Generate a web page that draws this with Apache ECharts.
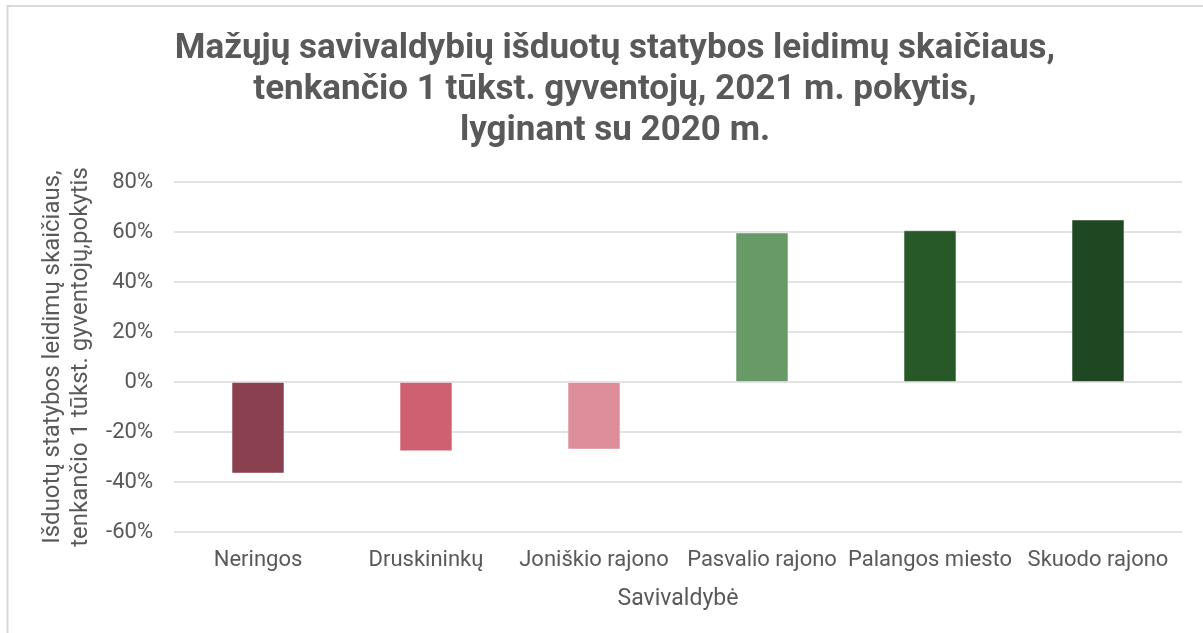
<!DOCTYPE html>
<html>
<head>
<meta charset="utf-8">
<script src="https://cdn.jsdelivr.net/npm/echarts@6/dist/echarts.min.js"></script>
<style>
  html, body { margin: 0; padding: 0; background: #fff; }
  #main { width: 1203px; height: 633px; }
</style>
</head>
<body>
<div id="main"></div>
<script>
// savivaldybės ir pokytis (%)
var categories = ['Neringos', 'Druskininkų', 'Joniškio rajono', 'Pasvalio rajono', 'Palangos miesto', 'Skuodo rajono'];
var values = [-36.6, -27.7, -27.0, 59.8, 60.7, 65.0];
var barColors = ['#8B4050', '#CF6072', '#DE8D9A', '#679A66', '#275828', '#1F4721'];

var textColor = '#595959';
var font = 'Roboto';

var chart = echarts.init(document.getElementById('main'));

var option = {
  animation: false,
  backgroundColor: '#fff',
  title: {
    text: 'Mažųjų savivaldybių išduotų statybos leidimų skaičiaus,\ntenkančio 1 tūkst. gyventojų, 2021 m. pokytis,\nlyginant su 2020 m.',
    left: 610,
    textAlign: 'center',
    top: 24,
    textStyle: {
      color: textColor,
      fontFamily: font,
      fontWeight: 'bold',
      fontSize: 35,
      lineHeight: 41
    }
  },
  graphic: [{
    type: 'rect',
    shape: { x: 7.5, y: 6, width: 1400, height: 800 },
    style: { fill: 'none', stroke: '#d9d9d9', lineWidth: 2 },
    silent: true
  }],
  grid: {
    left: 174,
    right: 21,
    top: 182,
    bottom: 101
  },
  xAxis: {
    type: 'category',
    data: categories,
    name: 'Savivaldybė',
    nameLocation: 'middle',
    nameGap: 56,
    nameTextStyle: { color: textColor, fontFamily: font, fontSize: 23 },
    axisLine: { show: false },
    axisTick: { show: false },
    axisLabel: {
      interval: 0,
      color: textColor,
      fontFamily: font,
      fontSize: 22,
      margin: 17
    }
  },
  yAxis: {
    type: 'value',
    min: -60,
    max: 80,
    interval: 20,
    name: 'Išduotų statybos leidimų skaičiaus,\ntenkančio 1 tūkst. gyventojų,pokytis',
    nameLocation: 'middle',
    nameRotate: 90,
    nameGap: 73,
    nameTextStyle: { color: textColor, fontFamily: font, fontSize: 24, lineHeight: 28 },
    axisLine: { show: false },
    axisTick: { show: false },
    axisLabel: {
      color: textColor,
      fontFamily: font,
      fontSize: 22,
      margin: 21,
      formatter: '{value}%'
    },
    splitLine: { lineStyle: { color: '#d9d9d9', width: 1.5 } }
  },
  series: [{
    type: 'bar',
    data: values.map(function(v, i) {
      return { value: v, itemStyle: { color: barColors[i] } };
    }),
    barWidth: '31.5%',
    itemStyle: {
      borderColor: 'rgba(255,255,255,0.45)',
      borderWidth: 1
    }
  }]
};

chart.setOption(option);
</script>
</body>
</html>
